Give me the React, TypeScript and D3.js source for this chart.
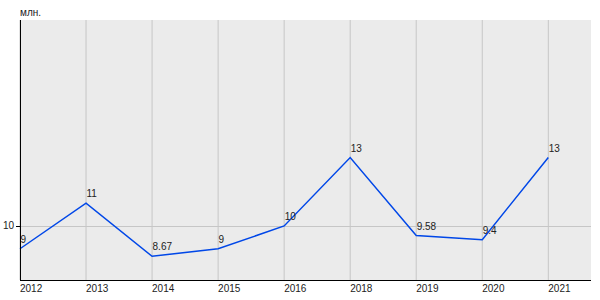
import React from "react";
import * as d3 from "d3";

const years = ["2012", "2013", "2014", "2015", "2016", "2018", "2019", "2020", "2021"];
const values = [9, 11, 8.67, 9, 10, 13, 9.58, 9.4, 13];
const valueLabels = ["9", "11", "8.67", "9", "10", "13", "9.58", "9.4", "13"];
const yTicks = [10];
const unitLabel = "млн.";

const W = 600;
const H = 300;
const left = 20;
const right = 591;
const top = 20;
const bottom = 280;

export default function App() {
  const x = d3.scalePoint<string>().domain(years).range([left, 548.3]);
  const y = d3.scaleLinear().domain([7.63, 19.03]).range([bottom, top]);
  const line = d3
    .line<number>()
    .x((_, i) => x(years[i]) as number)
    .y((d) => y(d));
  const font = "Liberation Sans, Arial, sans-serif";
  return (
    <svg
      width={W}
      height={H}
      style={{ position: "absolute", left: 0, top: 0, background: "#fff" }}
      fontFamily={font}
    >
      <rect x={left} y={top} width={right - left} height={bottom - top} fill="#ebebeb" />
      {years.map((yr) => (
        <line
          key={"g" + yr}
          x1={x(yr)}
          x2={x(yr)}
          y1={top}
          y2={bottom}
          stroke="#c6c6c6"
          strokeWidth={1}
        />
      ))}
      {yTicks.map((t) => (
        <g key={"yt" + t}>
          <line x1={left} x2={right} y1={Math.round(y(t)) + 0.5} y2={Math.round(y(t)) + 0.5} stroke="#c6c6c6" />
          <line x1={left - 4} x2={left} y1={Math.round(y(t)) + 0.5} y2={Math.round(y(t)) + 0.5} stroke="#000" />
          <text x={left - 6} y={y(t)} dy="0.35em" textAnchor="end" fontSize={10} fill="#222">
            {t}
          </text>
        </g>
      ))}
      <path d={line(values) || ""} fill="none" stroke="#0047e8" strokeWidth={1.5} />
      {values.map((v, i) => (
        <text
          key={"v" + i}
          x={(x(years[i]) as number) + 0.5}
          y={y(v) - 6}
          fontSize={10}
          fill="#222"
        >
          {valueLabels[i]}
        </text>
      ))}
      <line x1={left + 0.5} x2={left + 0.5} y1={top} y2={bottom} stroke="#000" strokeWidth={1} />
      <line x1={left} x2={right} y1={bottom + 0.5} y2={bottom + 0.5} stroke="#000" strokeWidth={1} />
      {years.map((yr) => (
        <text key={"xl" + yr} x={x(yr)} y={292} fontSize={10} fill="#222">
          {yr}
        </text>
      ))}
      <text x={left} y={16} fontSize={10} fill="#222">
        {unitLabel}
      </text>
    </svg>
  );
}
